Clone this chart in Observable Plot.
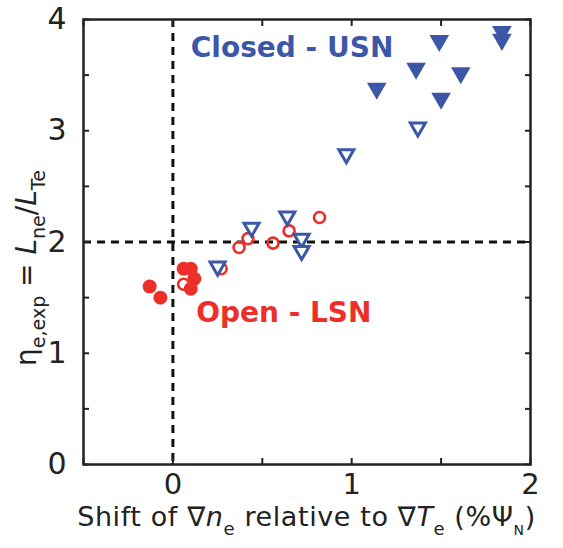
<!DOCTYPE html>
<html><head><meta charset="utf-8">
<script src="https://cdn.jsdelivr.net/npm/d3@7"></script>
<script src="https://cdn.jsdelivr.net/npm/@observablehq/plot@0.6"></script>
<style>body{margin:0;background:#fff} svg{overflow:visible}</style>
</head><body><div id="chart"></div>
<script>
// Closed - USN, filled triangles
const usnFilledX = [1.84, 1.84, 1.49, 1.36, 1.61, 1.14, 1.50];
const usnFilledY = [3.89, 3.82, 3.81, 3.56, 3.52, 3.38, 3.29];
// Closed - USN, open triangles
const usnOpenX = [0.25, 0.44, 0.64, 0.72, 0.72, 0.97, 1.37];
const usnOpenY = [1.78, 2.13, 2.23, 2.03, 1.92, 2.79, 3.03];
// Open - LSN, open circles
const lsnOpenX = [0.06, 0.27, 0.37, 0.42, 0.56, 0.65, 0.82];
const lsnOpenY = [1.62, 1.76, 1.95, 2.03, 1.99, 2.10, 2.22];
// Open - LSN, filled circles
const lsnFilledX = [0.06, 0.10, 0.12, 0.10, -0.13, -0.07];
const lsnFilledY = [1.76, 1.76, 1.67, 1.58, 1.60, 1.50];

const xTicks = [0, 1, 2];
const yTicks = [0, 1, 2, 3, 4];
const xMinor = [-0.5, 0, 0.5, 1, 1.5, 2];
const yMinor = [0, 0.5, 1, 1.5, 2, 2.5, 3, 3.5, 4];
const labelClosed = "Closed - USN";
const labelOpen = "Open - LSN";

const blue = "#3d57a7";
const red = "#ec2f28";
const font = "DejaVu Sans";

const pts = (xs, ys) => xs.map((x, i) => ({x, y: ys[i]}));

const tickOpts = {tickSize: -6, tickFormat: () => "", label: null, stroke: "#222", strokeWidth: 2};

const plot = Plot.plot({
  width: 563,
  height: 548,
  marginLeft: 83,
  marginRight: 33,
  marginTop: 19,
  marginBottom: 84,
  style: {fontFamily: font, background: "#fff", color: "#222"},
  x: {domain: [-0.5, 2]},
  y: {domain: [0, 4]},
  marks: [
    Plot.ruleX([0], {stroke: "#111", strokeWidth: 3, strokeDasharray: "8,6"}),
    Plot.ruleY([2], {stroke: "#111", strokeWidth: 3, strokeDasharray: "8,6"}),
    Plot.dot(pts(lsnFilledX, lsnFilledY), {x: "x", y: "y", r: 7, fill: red}),
    Plot.dot(pts(lsnOpenX, lsnOpenY), {x: "x", y: "y", r: 5.5, stroke: red, strokeWidth: 2.6, fill: "none"}),
    Plot.dot(pts(usnOpenX, usnOpenY), {x: "x", y: "y", r: 5.6, symbol: "triangle", rotate: 180, stroke: blue, strokeWidth: 3, fill: "white"}),
    Plot.dot(pts(usnFilledX, usnFilledY), {x: "x", y: "y", r: 7.3, symbol: "triangle", rotate: 180, fill: blue}),
    Plot.text([labelClosed], {x: 0.1, y: 3.74, text: d => d, textAnchor: "start", fill: blue, fontSize: 28, fontWeight: "bold"}),
    Plot.text([labelOpen], {x: 0.13, y: 1.36, text: d => d, textAnchor: "start", fill: red, fontSize: 28, fontWeight: "bold"}),
    Plot.axisX(xMinor, {anchor: "bottom", ...tickOpts}),
    Plot.axisX(xMinor, {anchor: "top", ...tickOpts}),
    Plot.axisY(yMinor, {anchor: "left", ...tickOpts}),
    Plot.axisY(yMinor, {anchor: "right", ...tickOpts}),
    Plot.axisX(xTicks, {anchor: "bottom", tickSize: 0, tickPadding: 9, fontSize: 29, label: null, tickFormat: d3.format("d"), fill: "#222"}),
    Plot.axisY(yTicks, {anchor: "left", tickSize: 0, tickPadding: 17, fontSize: 30, label: null, tickFormat: d3.format("d"), fill: "#222"}),
    Plot.frame({stroke: "#222", strokeWidth: 2.5})
  ]
});

const svg = d3.select(plot);
// x axis label
const xl = svg.append("text")
  .attr("x", (83 + 530) / 2).attr("y", 526)
  .attr("text-anchor", "middle").attr("font-size", 27).attr("letter-spacing", 0.6).attr("fill", "#222").attr("font-family", font);
xl.append("tspan").text("Shift of ∇");
xl.append("tspan").attr("font-style", "italic").text("n");
xl.append("tspan").attr("font-size", 18).attr("dy", 9).text("e");
xl.append("tspan").attr("dy", -9).text(" relative to ∇");
xl.append("tspan").attr("font-style", "italic").text("T");
xl.append("tspan").attr("font-size", 18).attr("dy", 9).text("e");
xl.append("tspan").attr("dy", -9).text(" (%Ψ");
xl.append("tspan").attr("font-size", 14).attr("dy", 9).text("N");
xl.append("tspan").attr("dy", -9).text(")");

// y axis label
const yl = svg.append("text")
  .attr("transform", "translate(36,268) rotate(-90)")
  .attr("text-anchor", "middle").attr("font-size", 28).attr("fill", "#222").attr("font-family", font);
yl.append("tspan").text("η");
yl.append("tspan").attr("font-size", 19).attr("dy", 9).text("e,exp");
yl.append("tspan").attr("dy", -9).text(" = ");
yl.append("tspan").attr("font-style", "italic").text("L");
yl.append("tspan").attr("font-size", 19).attr("dy", 9).text("ne");
yl.append("tspan").attr("dy", -9).text("/");
yl.append("tspan").attr("font-style", "italic").text("L");
yl.append("tspan").attr("font-size", 19).attr("dy", 9).text("Te");

document.getElementById("chart").appendChild(plot);
</script>
</body></html>
